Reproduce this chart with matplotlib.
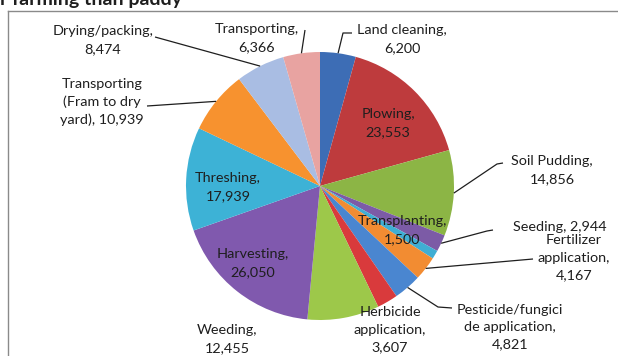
import matplotlib
matplotlib.use("Agg")

import numpy as np
import matplotlib.pyplot as plt
from matplotlib.lines import Line2D


# ======================================
# DATA
# ======================================

names=[
    "Land cleaning","Plowing","Soil Pudding","Seeding","Transplanting",
    "Fertilizer\napplication","Pesticide/fungici\nde application",
    "Herbicide\napplication","Weeding","Harvesting","Threshing",
    "Transporting\n(Fram to dry\nyard)","Drying/packing","Transporting"
]

values=[6200,23553,14856,2944,1500,4167,4821,3607,12455,26050,17939,10939,8474,6366]

# separator between name and value in the label
seps=["\n","\n","\n"," ","\n","\n","\n","\n","\n","\n","\n"," ","\n","\n"]

colors=[
    "#3D6DB5","#BE3B3D","#8CB545","#7C5BA6","#40AED3","#F28C32",
    "#4A86D0","#D93A3C","#9DC84A","#8059AE","#3DB2D6","#F7922F",
    "#A9BDE3","#E8A3A1"
]


# ======================================
# LAYOUT (pixel positions)
# ======================================

W,H=618,356
CX,CY,R=320,186,134

text_pos=[
    (402,39),(388,123),(552,170),(560,227),(402,230),(574,258),(510,327),
    (390,330),(227,339),(253,263),(228,187),(102,102),(103,40),(257,38)
]

leaders=[
    [(352,33),(343,33)],
    None,
    [(503,163),(497,164)],
    [(493,230),(487,231)],
    None,
    [(533,259)],
    [(452,308),(438,307)],
    None,
    None,
    None,
    None,
    [(147,106)],
    [(155,37)],
    [(305,30)],
]


def px(p):
    return p[0],H-p[1]


plt.rcParams["font.family"]=["Lato","DejaVu Sans"]

fig=plt.figure(figsize=(W/100,H/100),dpi=100)
ax=fig.add_axes([0,0,1,1])

wedges,_=ax.pie(
    values,
    colors=colors,
    startangle=90,
    counterclock=False,
    center=(CX,H-CY),
    radius=R,
    wedgeprops=dict(linewidth=0)
)

ax.set_xlim(0,W)
ax.set_ylim(0,H)
ax.set_aspect("equal")
ax.axis("off")

for i,w in enumerate(wedges):

    label=f"{names[i]},{seps[i]}{values[i]:,}"
    tx,ty=px(text_pos[i])

    ax.text(tx,ty,label,ha="center",va="center",multialignment="center",
            fontsize=10.4,color="#1e1e1e",linespacing=1.55)

    if leaders[i] is not None:
        mid=np.deg2rad((w.theta1+w.theta2)/2)
        ex=CX+R*np.cos(mid)
        ey=(H-CY)+R*np.sin(mid)
        pts=[px(p) for p in leaders[i]]+[(ex,ey)]
        xs=[p[0] for p in pts]
        ys=[p[1] for p in pts]
        ax.plot(xs,ys,color="#1e1e1e",lw=0.9,solid_capstyle="butt")


# chart area border
fig.add_artist(Line2D([8/W,1],[1-11/H,1-11/H],color="#8a8a8a",lw=1))
fig.add_artist(Line2D([8/W,8/W],[0,1-11/H],color="#8a8a8a",lw=1))

# title, cut off at the top
fig.text(0.0,1-5/H,"r farming than paddy",ha="left",va="baseline",
         fontsize=14,fontweight="bold",color="#1e1e1e")

plt.savefig("out.png",dpi=100)
plt.close()
